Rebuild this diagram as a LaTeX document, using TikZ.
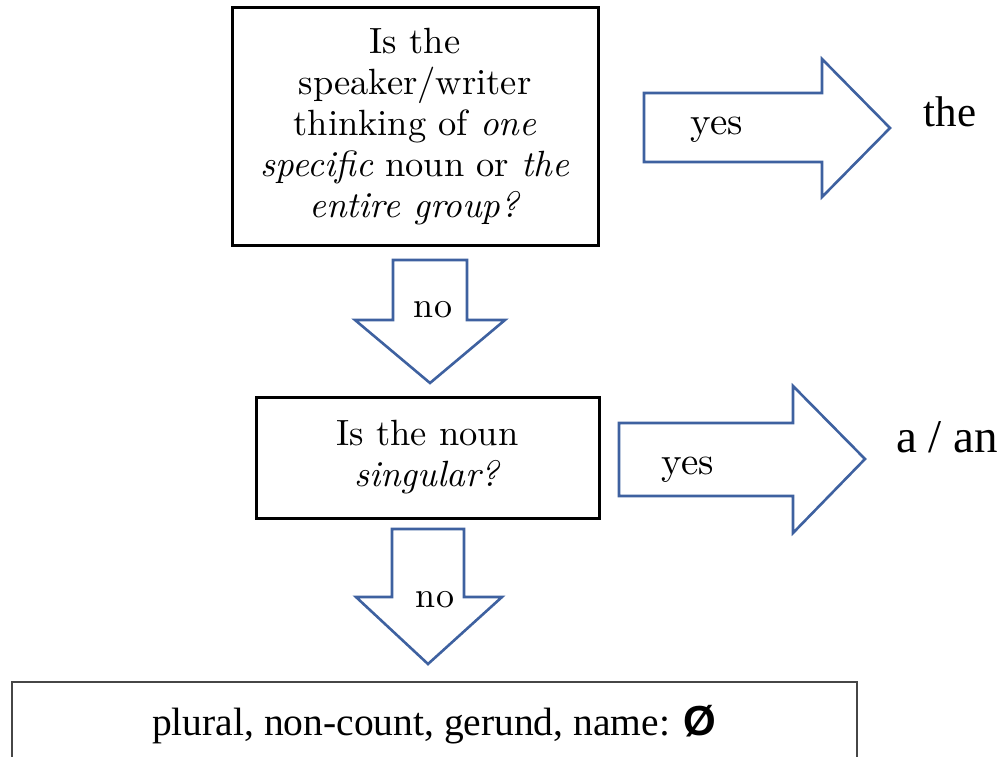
\documentclass[tikz,border=0pt]{standalone}
\usepackage{fontspec}
\setmainfont{lmroman10}[Extension=.otf, UprightFont=*-regular, ItalicFont=*-italic]
\newfontfamily\wordfont{Liberation Serif}
\newfontfamily\symfont{Liberation Sans}
\definecolor{arrowblue}{RGB}{62,97,160}
\definecolor{boxgray}{RGB}{70,70,70}

\begin{document}
\begin{tikzpicture}[x=1pt, y=-1pt,
  qbox/.style={draw=black, line width=3pt, fill=white, align=center, inner sep=0pt,
               font=\fontsize{36.5}{41}\selectfont},
  resbox/.style={draw=boxgray, line width=2.4pt, fill=white, inner sep=0pt},
  flow/.style={draw=arrowblue, line width=2.6pt, fill=white, line join=miter},
  lbl/.style={inner sep=0pt, font=\fontsize{36}{41}\selectfont},
  answer/.style={inner sep=0pt, anchor=base, font=\wordfont\fontsize{43}{48}\selectfont}]
\useasboundingbox (0,0) rectangle (1007,757);
\clip (0,0) rectangle (1007,757);

% question boxes
\node[qbox, minimum width=366pt, minimum height=237pt] (q1) at (415,126.5)
  {Is the\\ speaker/writer\\ thinking of \textit{one}\\ \textit{specific} noun or \textit{the}\\ \textit{entire group?}};
\node[qbox, minimum width=343pt, minimum height=121pt] (q2) at (427.5,457.5)
  {Is the noun\\ \textit{singular?}};

% result box, running off the lower edge
\node[resbox, anchor=north west, minimum width=845pt, minimum height=120pt] (res) at (11,681) {};
\node[inner sep=0pt, anchor=base, font=\wordfont\fontsize{39.5}{44}\selectfont] (restext) at (434,735)
  {plural, non-count, gerund, name: {\symfont\bfseries\fontsize{42}{44}\selectfont Ø}};

% "no" arrows pointing down
\draw[flow] (393,260) -- (467,260) -- (467,320) -- (505,320) -- (430,383)
  -- (355,320) -- (393,320) -- cycle;
\node[lbl] (no1) at (433,310) {no};
\draw[flow] (392,529) -- (464,529) -- (464,597) -- (502,597) -- (428,664)
  -- (356,597) -- (392,597) -- cycle;
\node[lbl] (no2) at (435,600) {no};

% "yes" arrows pointing right
\draw[flow] (644,93) -- (822,93) -- (822,59) -- (890,128) -- (822,197)
  -- (822,162) -- (644,162) -- cycle;
\node[lbl, font=\fontsize{39}{44}\selectfont] (yes1) at (717,130) {yes};
\draw[flow] (619,423) -- (793,423) -- (793,386) -- (865,459) -- (793,533)
  -- (793,496) -- (619,496) -- cycle;
\node[lbl, font=\fontsize{39}{44}\selectfont] (yes2) at (688,470) {yes};

% answers
\node[answer] (the) at (950,127) {the};
\node[answer, font=\wordfont\fontsize{47}{52}\selectfont] (aan) at (947,452) {a / an};
\end{tikzpicture}
\end{document}
